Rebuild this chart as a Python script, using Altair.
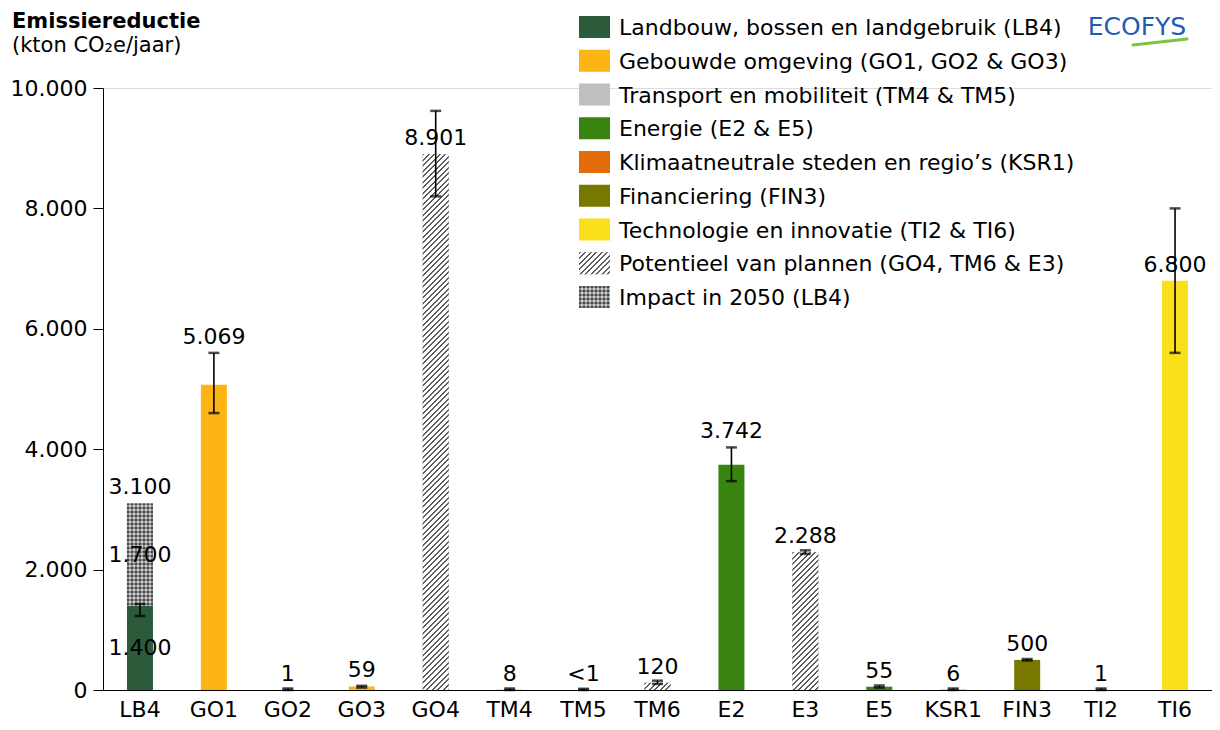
import altair as alt
import pandas as pd

# ---------------- data ----------------
categories = ["LB4", "GO1", "GO2", "GO3", "GO4", "TM4", "TM5", "TM6",
              "E2", "E3", "E5", "KSR1", "FIN3", "TI2", "TI6"]
values = [1400, 5069, 1, 59, 8901, 8, 0.4, 120, 3742, 2288, 55, 6, 500, 1, 6800]
err_low = [1230, 4600, 0, 40, 8200, 0, 0, 100, 3470, 2260, 40, 0, 490, 0, 5600]
err_high = [1430, 5600, 25, 70, 9620, 25, 20, 155, 4030, 2320, 75, 25, 515, 25, 8000]
value_labels = ["3.100", "5.069", "1", "59", "8.901", "8", "<1", "120",
                "3.742", "2.288", "55", "6", "500", "1", "6.800"]
group_codes = ["LB", "GO", "GO", "GO", "POT", "TM", "TM", "POT",
               "E", "POT", "E", "KSR", "FIN", "TI", "TI"]

impact_category = "LB4"
impact_base = 1400
impact_total = 3100
impact_parts = [1400, 1700]
impact_part_labels = ["1.400", "1.700"]

labels_above_error = ["GO1", "E2"]

legend_codes = ["LB", "GO", "TM", "E", "KSR", "FIN", "TI", "POT", "IMP"]
legend_names = [
    "Landbouw, bossen en landgebruik (LB4)",
    "Gebouwde omgeving (GO1, GO2 & GO3)",
    "Transport en mobiliteit (TM4 & TM5)",
    "Energie (E2 & E5)",
    "Klimaatneutrale steden en regio\u2019s (KSR1)",
    "Financiering (FIN3)",
    "Technologie en innovatie (TI2 & TI6)",
    "Potentieel van plannen (GO4, TM6 & E3)",
    "Impact in 2050 (LB4)",
]
legend_colors = ["#2b5b3a", "#fdb515", "#c0c0c0", "#398410", "#e36c0a",
                 "#787800", "#f9e01b", "#a8a8a8", "#9a9a9a"]

# ---------------- layout / style ----------------
FONT = "DejaVu Sans"
FS = 22
PLOT_W, PLOT_H = 1109, 602
Y_MAX = 10000
BAR_W = 26
SYM_W, SYM_H = 31, 22
code_to_name = dict(zip(legend_codes, legend_names))


def px_height(v):
    return v * PLOT_H / Y_MAX


def hatch(w, h, period=5.5, dark_frac=0.36, dark="#5e5e5e", light="#ffffff"):
    s = w + h
    stops = []
    k = 0
    while True:
        a = k * period / s
        if a >= 1.0:
            break
        m = min((k + dark_frac) * period / s, 1.0)
        b = min((k + 1) * period / s, 1.0)
        stops += [alt.GradientStop(color=dark, offset=a), alt.GradientStop(color=dark, offset=m),
                  alt.GradientStop(color=light, offset=m), alt.GradientStop(color=light, offset=b)]
        k += 1
    d = w * w + h * h
    return alt.LinearGradient(gradient="linear", x1=0, y1=0,
                              x2=w * s / d, y2=h * s / d, stops=stops)


def stripes(length, horizontal, cell=2.0, dark="#4a4a4a", light="#cfcfcf"):
    stops = []
    k = 0
    while True:
        a = min(k * cell / length, 1.0)
        b = min((k + 1) * cell / length, 1.0)
        c = dark if k % 2 == 0 else light
        stops.append(alt.GradientStop(color=c, offset=a))
        stops.append(alt.GradientStop(color=c, offset=b))
        if b >= 1.0:
            break
        k += 1
    if horizontal:
        return alt.LinearGradient(gradient="linear", x1=0, y1=0, x2=0, y2=1, stops=stops)
    return alt.LinearGradient(gradient="linear", x1=0, y1=0, x2=1, y2=0, stops=stops)


# ---------------- tables ----------------
rows = []
for c, v, g in zip(categories, values, group_codes):
    rows.append({"cat": c, "group": code_to_name[g], "y0": 0, "y1": v})
rows.append({"cat": impact_category, "group": code_to_name["IMP"],
             "y0": impact_base, "y1": impact_total})
bars_df = pd.DataFrame(rows)

err_df = pd.DataFrame({"cat": categories, "lo": err_low, "hi": err_high})

lab_anchor = []
for c, v, hi in zip(categories, values, err_high):
    if c == impact_category:
        lab_anchor.append(impact_total)
    elif c in labels_above_error:
        lab_anchor.append(hi)
    else:
        lab_anchor.append(v)
lab_df = pd.DataFrame({"cat": categories, "y": lab_anchor, "txt": value_labels})

inner_mid = [impact_parts[0] / 2, impact_parts[0] + impact_parts[1] / 2]
inner_df = pd.DataFrame({"cat": [impact_category] * 2, "y": inner_mid,
                         "txt": impact_part_labels})

legend_df = pd.DataFrame({"name": legend_names, "code": legend_codes})

# ---------------- encodings ----------------
X = alt.X("cat:N", sort=categories,
          scale=alt.Scale(domain=categories, paddingInner=0, paddingOuter=0),
          axis=alt.Axis(title=None, ticks=False, labelAngle=0, labelFont=FONT,
                        labelFontSize=FS, labelColor="black", labelPadding=9,
                        domainColor="black", domainWidth=1))
Y = alt.Y("y1:Q", scale=alt.Scale(domain=[0, Y_MAX], nice=False, zero=True),
          axis=alt.Axis(title=None, values=list(range(0, 10001, 2000)), grid=False,
                        labelExpr="replace(format(datum.value, ','), ',', '.')",
                        labelFont=FONT, labelFontSize=FS, labelColor="black",
                        labelPadding=6, tickSize=10, tickColor="black",
                        domainColor="black", domainWidth=1))
COLOR_SCALE = alt.Scale(domain=legend_names, range=legend_colors)

pot_name = code_to_name["POT"]
imp_name = code_to_name["IMP"]

main_layers = [alt.Chart(bars_df).mark_bar(size=BAR_W).encode(
    x=X, y=Y, y2="y0", color=alt.Color("group:N", scale=COLOR_SCALE, legend=None))]

for c, v, g in zip(categories, values, group_codes):
    if g == "POT":
        sub = bars_df[(bars_df.cat == c) & (bars_df.group == pot_name)]
        main_layers.append(alt.Chart(sub).mark_bar(size=BAR_W, color=hatch(BAR_W, px_height(v)))
                           .encode(x=X, y=Y, y2="y0"))

imp_df = bars_df[bars_df.group == imp_name]
imp_h = px_height(impact_total - impact_base)
main_layers.append(alt.Chart(imp_df).mark_bar(size=BAR_W, color=stripes(BAR_W, False))
                   .encode(x=X, y=Y, y2="y0"))
main_layers.append(alt.Chart(imp_df).mark_bar(size=BAR_W, color=stripes(imp_h, True), fillOpacity=0.5)
                   .encode(x=X, y=Y, y2="y0"))

text_style = dict(font=FONT, fontSize=FS, color="black")
main_layers.append(alt.Chart(lab_df).mark_text(baseline="middle", dy=-16, **text_style)
                   .encode(x=X, y=alt.Y("y:Q"), text="txt:N"))
main_layers.append(alt.Chart(inner_df).mark_text(baseline="middle", **text_style)
                   .encode(x=X, y=alt.Y("y:Q"), text="txt:N"))

main_layers.append(alt.Chart(err_df).mark_rule(color="black", strokeWidth=1.6)
                   .encode(x=X, y=alt.Y("lo:Q"), y2="hi:Q"))
main_layers.append(alt.Chart(err_df).mark_tick(color="black", size=11, thickness=2.5, orient="horizontal")
                   .encode(x=X, y=alt.Y("lo:Q")))
main_layers.append(alt.Chart(err_df).mark_tick(color="black", size=11, thickness=2.5, orient="horizontal")
                   .encode(x=X, y=alt.Y("hi:Q")))

one = pd.DataFrame({"k": [0]})
main_layers.append(alt.Chart(one).mark_text(align="left", baseline="alphabetic", font=FONT,
                                            fontSize=21, fontWeight="bold", color="black")
                   .encode(x=alt.value(-91), y=alt.value(-60), text=alt.value("Emissiereductie")))
main_layers.append(alt.Chart(one).mark_text(align="left", baseline="alphabetic", font=FONT,
                                            fontSize=21, color="black")
                   .encode(x=alt.value(-91), y=alt.value(-36),
                           text=alt.value("(kton CO\u2082e/jaar)")))
main_layers.append(alt.Chart(one).mark_text(align="center", baseline="alphabetic", font=FONT,
                                            fontSize=25, color="#1f5cb5")
                   .encode(x=alt.value(1034), y=alt.value(-53), text=alt.value("ECOFYS")))
main_layers.append(alt.Chart(one).mark_rule(color="#7dc242", strokeWidth=3, strokeCap="round")
                   .encode(x=alt.value(1030), x2=alt.value(1084), y=alt.value(-43), y2=alt.value(-49)))

main = alt.layer(*main_layers)

# ---------------- legend (drawn as its own layer) ----------------
LEG_Y = alt.Y("name:N", sort=legend_names,
              scale=alt.Scale(type="point", domain=legend_names, range=[-61, 209], padding=0),
              axis=None)
SYM_PATH = "M-%.4f,-1H%.4fV1H-%.4fZ" % ((SYM_W / SYM_H,) * 3)
sym_kw = dict(shape=SYM_PATH, size=SYM_H ** 2, filled=True, opacity=1, strokeWidth=0)
LEG_X = alt.value(476 + SYM_W / 2)

leg_layers = [alt.Chart(legend_df).mark_point(**sym_kw).encode(
    x=LEG_X, y=LEG_Y, color=alt.Color("name:N", scale=COLOR_SCALE, legend=None))]
leg_layers.append(alt.Chart(legend_df[legend_df.code == "POT"])
                  .mark_point(fill=hatch(SYM_W, SYM_H), **sym_kw).encode(x=LEG_X, y=LEG_Y))
leg_layers.append(alt.Chart(legend_df[legend_df.code == "IMP"])
                  .mark_point(fill=stripes(SYM_W, False), **sym_kw).encode(x=LEG_X, y=LEG_Y))
leg_layers.append(alt.Chart(legend_df[legend_df.code == "IMP"])
                  .mark_point(fill=stripes(SYM_H, True), fillOpacity=0.5, **sym_kw)
                  .encode(x=LEG_X, y=LEG_Y))
leg_layers.append(alt.Chart(legend_df).mark_text(align="left", baseline="middle", dy=1, **text_style)
                  .encode(x=alt.value(516), y=LEG_Y, text="name:N"))
leg = alt.layer(*leg_layers)

chart = alt.layer(main, leg).resolve_scale(y="independent").properties(
    width=PLOT_W, height=PLOT_H,
    padding={"left": 95, "top": 80, "right": 0, "bottom": 34},
    autosize=alt.AutoSizeParams(type="none"),
).configure_view(stroke=None).configure(background="white")

chart.save("out.html", embed_options={"renderer": "svg", "actions": False})
